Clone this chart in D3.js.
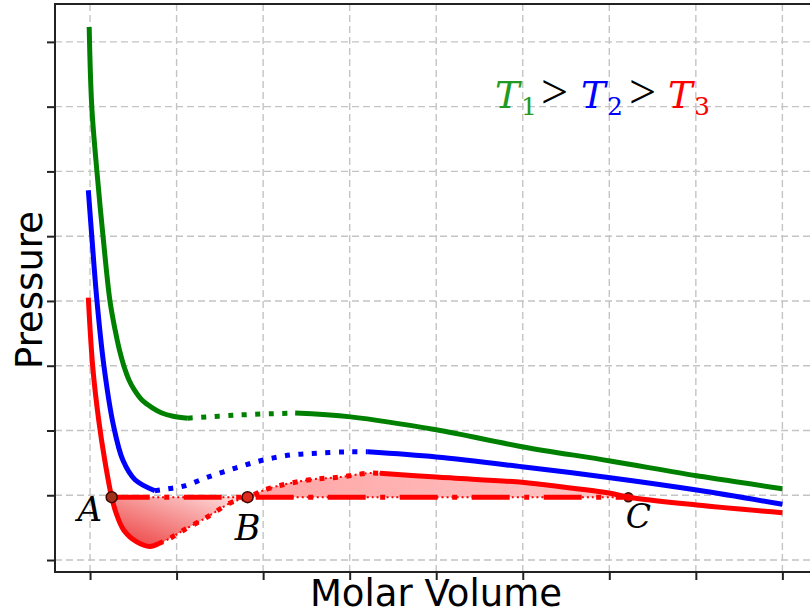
<!DOCTYPE html>
<html>
<head>
<meta charset="utf-8">
<script src="https://cdn.jsdelivr.net/npm/d3@7"></script>
<style>
  body { margin: 0; background: #fff; }
</style>
</head>
<body>
<div id="chart"></div>
<script>
// tick positions (labels are hidden in the original)
const volumeTicks = [0, 1, 2, 3, 4, 5, 6, 7, 8];
const pressureTicks = [0, 1, 2, 3, 4, 5, 6, 7, 8];

// T1 isotherm (green)
const t1Volume   = [-0.01, 0.02, 0.08, 0.15, 0.23, 0.29, 0.34, 0.39, 0.45, 0.51, 0.60, 0.72, 0.83, 0.96, 1.13, 1.73, 2.37, 3.01, 4.00, 4.99, 6.01, 7.01, 8.00];
const t1Pressure = [8.23, 7.00, 5.99, 5.00, 4.00, 3.55, 3.24, 3.00, 2.78, 2.63, 2.47, 2.35, 2.27, 2.22, 2.19, 2.24, 2.27, 2.21, 2.01, 1.75, 1.53, 1.30, 1.10];
const t1Breaks   = [1.13, 2.37];

// T2 isotherm (blue)
const t2Volume   = [-0.02, 0.02, 0.08, 0.16, 0.27, 0.38, 0.52, 0.75, 0.90, 1.08, 1.36, 1.68, 1.99, 2.31, 2.62, 2.97, 3.21, 4.00, 4.99, 6.01, 7.01, 8.00];
const t2Pressure = [5.71, 5.00, 4.00, 3.00, 2.08, 1.54, 1.24, 1.07, 1.10, 1.14, 1.28, 1.42, 1.54, 1.62, 1.65, 1.67, 1.67, 1.59, 1.44, 1.27, 1.08, 0.86];
const t2Breaks   = [0.75, 3.21];

// T3 isotherm (red)
const t3Volume   = [-0.02, 0.03, 0.10, 0.17, 0.25, 0.30, 0.39, 0.54, 0.69, 0.79, 0.93, 1.08, 1.35, 1.62, 1.82, 2.08, 2.54, 2.89, 3.20, 3.35, 4.00, 4.99, 5.20, 6.01, 6.22, 7.01, 8.00];
const t3Pressure = [4.05, 3.00, 2.16, 1.54, 0.97, 0.73, 0.46, 0.28, 0.21, 0.25, 0.34, 0.46, 0.66, 0.88, 0.97, 1.11, 1.24, 1.28, 1.34, 1.34, 1.28, 1.20, 1.17, 1.03, 0.97, 0.85, 0.73];
const t3Breaks   = [0.79, 3.35];

// Maxwell tie line and its points
const tiePressure = 0.97;
const pointNames  = ["A", "B", "C"];
const pointVolume = [0.25, 1.82, 6.22];

const WIDTH = 810, HEIGHT = 616;

const svg = d3.select("#chart").append("svg")
  .attr("width", WIDTH)
  .attr("height", HEIGHT);

const x = d3.scaleLinear().domain([-0.405, 8.4]).range([55, 817]);
const y = d3.scaleLinear().domain([-0.185, 8.585]).range([572, 4]);

const defs = svg.append("defs");
const g1 = defs.append("linearGradient").attr("id", "fillAB")
  .attr("x1", 0).attr("y1", 1).attr("x2", 1).attr("y2", 0);
g1.append("stop").attr("offset", 0).attr("stop-color", "#ec3a3a");
g1.append("stop").attr("offset", 1).attr("stop-color", "#ffe4e4");
const g2 = defs.append("linearGradient").attr("id", "fillBC")
  .attr("x1", 0).attr("y1", 0).attr("x2", 1).attr("y2", 0);
g2.append("stop").attr("offset", 0).attr("stop-color", "#ffa4a4");
g2.append("stop").attr("offset", 1).attr("stop-color", "#ffc6c6");

// grid
const grid = svg.append("g")
  .attr("stroke", "#c4c4c4")
  .attr("stroke-width", 1.4)
  .attr("stroke-dasharray", "7,4");
grid.selectAll(".vx").data(volumeTicks).enter().append("line")
  .attr("x1", d => x(d)).attr("x2", d => x(d))
  .attr("y1", 4).attr("y2", 572);
grid.selectAll(".hy").data(pressureTicks).enter().append("line")
  .attr("y1", d => y(d)).attr("y2", d => y(d))
  .attr("x1", 55).attr("x2", 817);

// axes
svg.append("g")
  .attr("transform", "translate(0,572)")
  .call(d3.axisBottom(x).tickValues(volumeTicks).tickFormat("").tickSize(8).tickSizeOuter(0))
  .call(g => g.select(".domain").remove())
  .call(g => g.selectAll("line").attr("stroke", "#222").attr("stroke-width", 2));
svg.append("g")
  .attr("transform", "translate(55,0)")
  .call(d3.axisLeft(y).tickValues(pressureTicks).tickFormat("").tickSize(8).tickSizeOuter(0))
  .call(g => g.select(".domain").remove())
  .call(g => g.selectAll("line").attr("stroke", "#222").attr("stroke-width", 2));

// spines
svg.append("rect")
  .attr("x", 55).attr("y", 4)
  .attr("width", 762).attr("height", 568)
  .attr("fill", "none")
  .attr("stroke", "#222")
  .attr("stroke-width", 2);

function toPoints(V, P) {
  return V.map((v, i) => [v, P[i]]);
}

function pieces(V, P, breaks) {
  const pts = toPoints(V, P);
  const edges = [-Infinity, ...breaks, Infinity];
  return edges.slice(1).map((e, k) => pts.filter(p => p[0] >= edges[k] && p[0] <= e));
}

const smooth = d3.curveCatmullRom.alpha(0.5);

const line = d3.line()
  .x(d => x(d[0]))
  .y(d => y(d[1]))
  .curve(smooth);

// Maxwell areas
const redPts = toPoints(t3Volume, t3Pressure);
const area = d3.area()
  .x(d => x(d[0]))
  .y0(y(tiePressure))
  .y1(d => y(d[1]))
  .curve(smooth);

const ab = redPts.filter(p => p[0] >= pointVolume[0] && p[0] <= pointVolume[1]);
const bc = redPts.filter(p => p[0] >= pointVolume[1] && p[0] <= pointVolume[2]);

svg.append("path").datum(ab)
  .attr("d", area)
  .attr("fill", "url(#fillAB)")
  .attr("stroke", "#ff0000")
  .attr("stroke-width", 2)
  .attr("stroke-dasharray", "2,3");
svg.append("path").datum(bc)
  .attr("d", area)
  .attr("fill", "url(#fillBC)")
  .attr("stroke", "#ff0000")
  .attr("stroke-width", 2)
  .attr("stroke-dasharray", "2,3");

// C sits under the curves
svg.append("circle")
  .attr("cx", x(pointVolume[2])).attr("cy", y(tiePressure))
  .attr("r", 4.5)
  .attr("fill", "#b01e10")
  .attr("stroke", "#4a0a00")
  .attr("stroke-width", 1.5);

// tie line
svg.append("line")
  .attr("x1", x(pointVolume[0])).attr("x2", x(pointVolume[2]))
  .attr("y1", y(tiePressure)).attr("y2", y(tiePressure))
  .attr("stroke", "#ff0000")
  .attr("stroke-width", 5)
  .attr("stroke-dasharray", "38,14.5,5,14.5");

// isotherms
const curves = [
  { V: t1Volume, P: t1Pressure, B: t1Breaks, color: "#008000" },
  { V: t2Volume, P: t2Pressure, B: t2Breaks, color: "#0000ff" },
  { V: t3Volume, P: t3Pressure, B: t3Breaks, color: "#ff0000" }
];

curves.forEach(c => {
  pieces(c.V, c.P, c.B).forEach((seg, k) => {
    svg.append("path").datum(seg)
      .attr("d", line)
      .attr("fill", "none")
      .attr("stroke", c.color)
      .attr("stroke-width", 5)
      .attr("stroke-dasharray", k === 1 ? "5,8.5" : null);
  });
});

// A and B markers
[0, 1].forEach(i => {
  svg.append("circle")
    .attr("cx", x(pointVolume[i])).attr("cy", y(tiePressure))
    .attr("r", 5.5)
    .attr("fill", i === 0 ? "#a0301a" : "#e02a1e")
    .attr("stroke", "#3a0800")
    .attr("stroke-width", 1.5);
});

// point labels
const labelOffset = [[-22, 24], [0, 43], [10, 31]];
const labelSize = [34, 35, 33];
svg.selectAll(".ptlabel").data(pointNames).enter().append("text")
  .attr("x", (d, i) => x(pointVolume[i]) + labelOffset[i][0])
  .attr("y", (d, i) => y(tiePressure) + labelOffset[i][1])
  .attr("text-anchor", "middle")
  .attr("font-family", "DejaVu Serif")
  .attr("font-style", "italic")
  .attr("font-size", (d, i) => labelSize[i])
  .attr("fill", "#000")
  .text(d => d);

// T1 > T2 > T3
const title = svg.append("text")
  .attr("y", 108);
const parts = [
  { t: "T", x: 495, c: "#229922", it: true, s: 37, dy: 0, f: "DejaVu Serif" },
  { t: "1", x: 521, c: "#229922", it: false, s: 25, dy: 7, f: "DejaVu Serif" },
  { t: ">", x: 541, c: "#000", it: false, s: 48, dy: 0, f: "Liberation Serif" },
  { t: "T", x: 581, c: "#0000ff", it: true, s: 37, dy: 0, f: "DejaVu Serif" },
  { t: "2", x: 607, c: "#0000ff", it: false, s: 25, dy: 7, f: "DejaVu Serif" },
  { t: ">", x: 629, c: "#000", it: false, s: 48, dy: 0, f: "Liberation Serif" },
  { t: "T", x: 668, c: "#ff0000", it: true, s: 37, dy: 0, f: "DejaVu Serif" },
  { t: "3", x: 694, c: "#ff0000", it: false, s: 25, dy: 7, f: "DejaVu Serif" }
];
parts.forEach(p => {
  title.append("tspan")
    .attr("x", p.x)
    .attr("y", 108 + p.dy)
    .attr("fill", p.c)
    .attr("font-family", p.f)
    .attr("font-style", p.it ? "italic" : "normal")
    .attr("font-size", p.s)
    .text(p.t);
});

// axis labels
svg.append("text")
  .attr("x", 436).attr("y", 606)
  .attr("text-anchor", "middle")
  .attr("font-family", "DejaVu Sans")
  .attr("font-size", 37)
  .text("Molar Volume");
svg.append("text")
  .attr("transform", "translate(42,290) rotate(-90)")
  .attr("text-anchor", "middle")
  .attr("font-family", "DejaVu Sans")
  .attr("font-size", 37)
  .text("Pressure");
</script>
</body>
</html>
